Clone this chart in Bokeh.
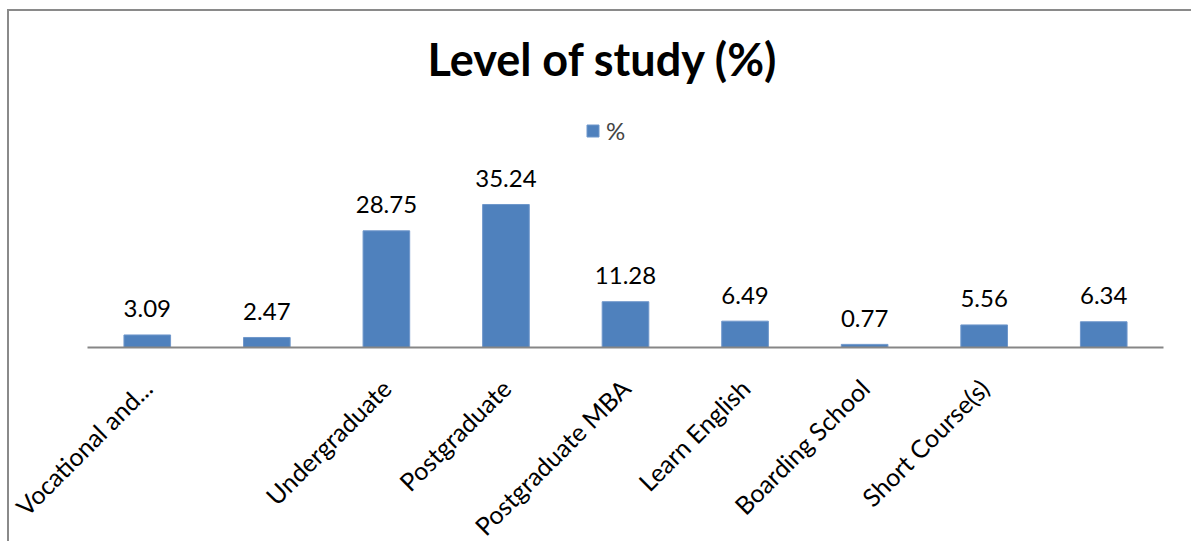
from math import pi
from bokeh.plotting import figure
from bokeh.models import ColumnDataSource, FixedTicker, Legend, LegendItem
from bokeh.core.properties import value
from bokeh.embed import file_html
from bokeh.resources import INLINE

categories = ["Vocational and...", "", "Undergraduate", "Postgraduate", "Postgraduate MBA",
              "Learn English", "Boarding School", "Short Course(s)", ""]
positions = [1, 2, 3, 4, 5, 6, 7, 8, 9]
percent = [3.09, 2.47, 28.75, 35.24, 11.28, 6.49, 0.77, 5.56, 6.34]
series_name = "%"
title_text = "Level of study (%)"

src = ColumnDataSource(dict(x=positions, top=percent, lbl=["%.2f" % v for v in percent]))

p = figure(frame_width=1076, frame_height=237, x_range=(0.5, 9.5), y_range=(0, 58.4),
           output_backend="svg", toolbar_location=None, y_axis_location=None,
           min_border_left=87, min_border_right=28, min_border_top=110, min_border_bottom=150)
grey_line = "linear-gradient(#8a8a8a, #8a8a8a)"
p.styles = {"height": "541px", "overflow": "hidden",
            "background-image": grey_line + ", " + grey_line,
            "background-size": "2px 100%, 100% 2px",
            "background-position": "7px 9px, 7px 9px",
            "background-repeat": "no-repeat"}
p.border_fill_alpha = 0
p.background_fill_color = "#ffffff"
p.outline_line_color = None
p.xgrid.visible = False
p.ygrid.visible = False

bars = p.vbar(x="x", top="top", width=0.39, source=src, fill_color="#4F81BD",
              line_color="#6f97cb", line_width=1)
p.text(x="x", y="top", text="lbl", source=src, text_align="center", text_baseline="alphabetic",
       y_offset=-26, text_font=value("Lato"), text_font_size="24px", text_color="#000000")

ax = p.xaxis[0]
ax.ticker = FixedTicker(ticks=positions)
ax.major_label_overrides = {pos: lab for pos, lab in zip(positions, categories)}
ax.major_label_orientation = pi / 4
ax.major_label_text_font = "Lato"
ax.major_label_text_font_size = "25px"
ax.major_label_text_color = "#000000"
ax.major_label_standoff = 30
ax.major_tick_line_color = None
ax.minor_tick_line_color = None
ax.axis_line_color = "#868686"
ax.axis_line_width = 2

p.title.text = title_text
p.title.text_font = "Lato"
p.title.text_font_style = "bold"
p.title.text_font_size = "45px"
p.title.text_color = "#000000"
p.title.align = "left"
p.title.offset = 340
p.title.standoff = 49

legend = Legend(items=[LegendItem(label=series_name, renderers=[bars])],
                location=(498, 202), orientation="horizontal", padding=0, margin=0,
                glyph_width=15, glyph_height=15, label_standoff=6,
                label_text_font="Lato", label_text_font_size="24px",
                border_line_color=None, background_fill_alpha=0)
p.add_layout(legend)

open("out.html", "w").write(file_html(p, INLINE))
